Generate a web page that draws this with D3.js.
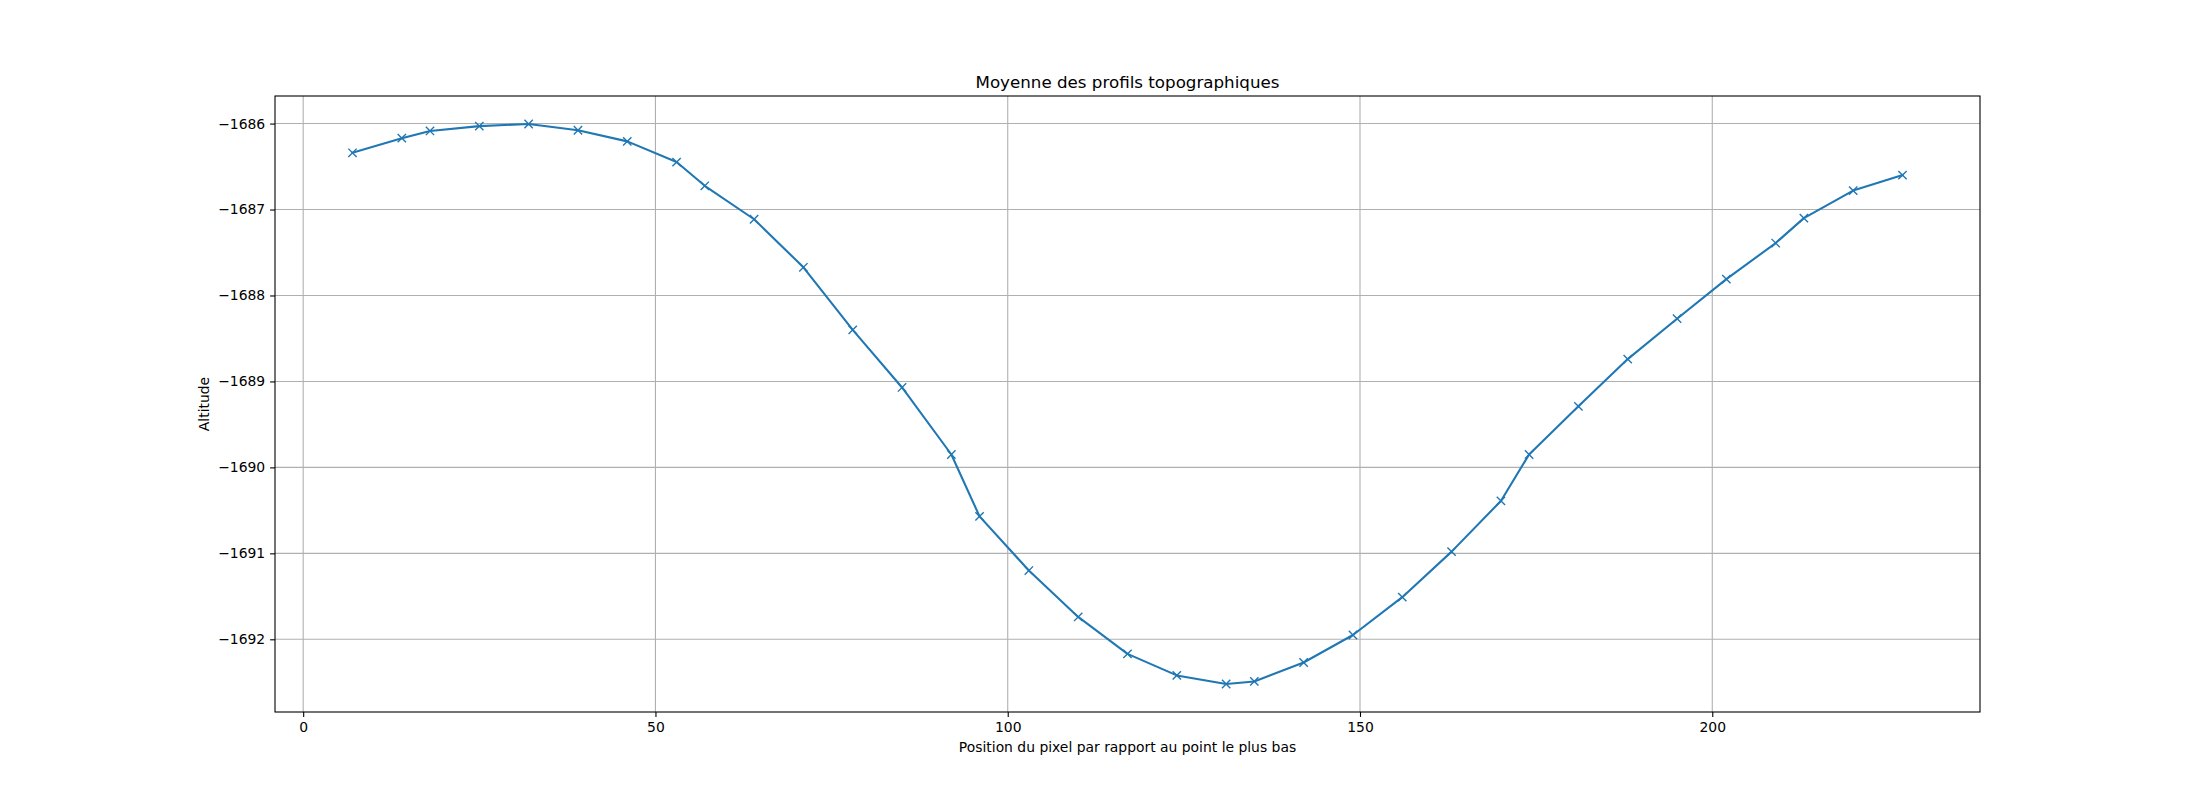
<!DOCTYPE html>
<html>
<head>
<meta charset="utf-8">
<script src="https://cdn.jsdelivr.net/npm/d3@7"></script>
<style>
  html, body { margin: 0; padding: 0; background: #fff; }
  svg { display: block; font-family: "DejaVu Sans", sans-serif; }
</style>
</head>
<body>
<svg id="chart" width="2200" height="800"></svg>
<script>
// pixel position relative to the lowest point
var positions = [7, 14, 18, 25, 32, 39, 46, 53, 57, 64, 71, 78, 85, 92, 96, 103, 110, 117, 124, 131,
                 135, 142, 149, 156, 163, 170, 174, 181, 188, 195, 202, 209, 213, 220, 227];
// mean altitude of the profiles
var altitudes = [-1686.34, -1686.17, -1686.086, -1686.03, -1686.005, -1686.078, -1686.207, -1686.448, -1686.724, -1687.113,
                 -1687.672, -1688.40, -1689.07, -1689.85, -1690.57, -1691.20, -1691.74, -1692.17, -1692.42, -1692.52,
                 -1692.49, -1692.27, -1691.95, -1691.51, -1690.98, -1690.39, -1689.85, -1689.29, -1688.74, -1688.27,
                 -1687.81, -1687.39, -1687.10, -1686.78, -1686.60];
var xTicks = [0, 50, 100, 150, 200];
var yTicks = [-1686, -1687, -1688, -1689, -1690, -1691, -1692];

var titleText = "Moyenne des profils topographiques",
    xLabel    = "Position du pixel par rapport au point le plus bas",
    yLabel    = "Altitude";

// plot box (window.top is read-only, so no bare "top")
var box  = {l: 275, r: 1980, t: 96, b: 712},
    blue = "#1f77b4";

var svg = d3.select( "#chart" );

var pts = positions.map( function ( p, i ) { return {x: p, y: altitudes[i]}; } );

// matplotlib style 5% margins
function padded ( ext ) {
	var m = ( ext[1] - ext[0] ) * 0.05;
	return [ext[0] - m, ext[1] + m];
}

var x = d3.scaleLinear().domain( padded( d3.extent( positions ) ) ).range( [box.l, box.r] ),
    y = d3.scaleLinear().domain( padded( d3.extent( altitudes ) ) ).range( [box.b, box.t] );

var minus = function ( v ) { return String( v ).replace( "-", "\u2212" ); };

// grid
var grid = svg.append( "g" ).attr( "stroke", "#b0b0b0" ).attr( "stroke-width", 1.1 );
grid.selectAll( "line.gx" ).data( xTicks ).enter().append( "line" )
	.attr( "x1", function ( d ) { return x( d ); } ).attr( "x2", function ( d ) { return x( d ); } )
	.attr( "y1", box.t ).attr( "y2", box.b );
grid.selectAll( "line.gy" ).data( yTicks ).enter().append( "line" )
	.attr( "x1", box.l ).attr( "x2", box.r )
	.attr( "y1", function ( d ) { return y( d ); } ).attr( "y2", function ( d ) { return y( d ); } );

// axes
var xAxis = d3.axisBottom( x ).tickValues( xTicks ).tickSizeInner( 4.9 ).tickSizeOuter( 0 ).tickPadding( 4.9 ),
    yAxis = d3.axisLeft( y ).tickValues( yTicks ).tickFormat( minus ).tickSizeInner( 4.9 ).tickSizeOuter( 0 ).tickPadding( 4.9 );

function styleAxis ( g ) {
	g.select( ".domain" ).remove();
	g.selectAll( ".tick line" ).attr( "stroke", "#000" ).attr( "stroke-width", 1.1 );
	g.selectAll( ".tick text" ).attr( "fill", "#000" ).style( "font-size", "13.9px" ).style( "font-family", "DejaVu Sans" );
}

svg.append( "g" ).attr( "transform", "translate(0," + box.b + ")" ).call( xAxis ).call( styleAxis );
svg.append( "g" ).attr( "transform", "translate(" + box.l + ",0)" ).call( yAxis ).call( styleAxis );

// line + x markers
var line = d3.line().x( function ( d ) { return x( d.x ); } ).y( function ( d ) { return y( d.y ); } );

svg.append( "path" ).datum( pts )
	.attr( "d", line ).attr( "fill", "none" )
	.attr( "stroke", blue ).attr( "stroke-width", 2.08 ).attr( "stroke-linejoin", "round" ).attr( "stroke-linecap", "square" );

var ms = 4.17;
svg.append( "g" ).selectAll( "path" ).data( pts ).enter().append( "path" )
	.attr( "d", function ( d ) {
		var cx = x( d.x ), cy = y( d.y );
		return "M" + ( cx - ms ) + "," + ( cy - ms ) + "L" + ( cx + ms ) + "," + ( cy + ms ) +
		       "M" + ( cx - ms ) + "," + ( cy + ms ) + "L" + ( cx + ms ) + "," + ( cy - ms );
	} )
	.attr( "stroke", blue ).attr( "stroke-width", 1.39 ).attr( "fill", "none" );

// frame
svg.append( "rect" ).attr( "x", box.l ).attr( "y", box.t ).attr( "width", box.r - box.l ).attr( "height", box.b - box.t )
	.attr( "fill", "none" ).attr( "stroke", "#000" ).attr( "stroke-width", 1.1 );

// texts (title sits on its baseline, 6pt above the frame)
svg.append( "text" ).attr( "x", ( box.l + box.r ) / 2 ).attr( "y", box.t - 8.3 )
	.attr( "text-anchor", "middle" ).style( "font-size", "16.7px" ).text( titleText );

svg.append( "text" ).attr( "x", ( box.l + box.r ) / 2 ).attr( "y", 752.3 )
	.attr( "text-anchor", "middle" ).style( "font-size", "13.9px" ).text( xLabel );

svg.append( "text" ).attr( "transform", "translate(209.3," + ( box.t + box.b ) / 2 + ") rotate(-90)" )
	.attr( "text-anchor", "middle" ).style( "font-size", "13.9px" ).text( yLabel );
</script>
</body>
</html>
